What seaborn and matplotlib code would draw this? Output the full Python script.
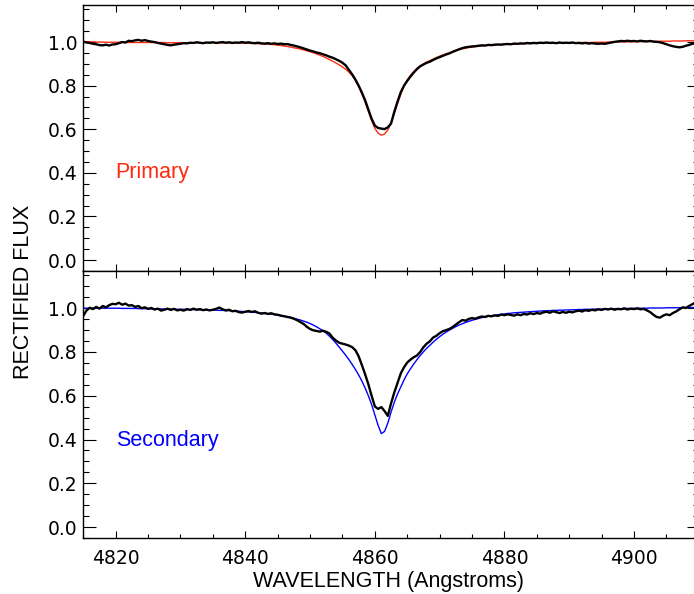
import numpy as np
import pandas as pd
import matplotlib
matplotlib.use("Agg")
import matplotlib.pyplot as plt
import seaborn as sns
from matplotlib.ticker import MultipleLocator, FuncFormatter

# ---------------- data ----------------
wave_start, wave_stop, wave_step = 4815.0, 4910.0, 0.5
wavelength = np.round(np.arange(wave_start, wave_stop + wave_step / 2, wave_step), 2)

primary_obs = [
    1.002, 0.998, 0.996, 0.992, 0.990, 0.986, 0.985, 0.988, 0.984, 0.989,
    0.990, 0.995, 1.000, 0.998, 1.006, 1.004, 1.008, 1.010, 1.006, 1.009,
    1.005, 1.002, 1.000, 0.996, 0.993, 0.990, 0.987, 0.985, 0.988, 0.990,
    0.992, 0.995, 0.994, 0.997, 0.996, 0.999, 0.997, 0.995, 0.998, 0.997,
    0.999, 0.996, 0.998, 1.000, 0.997, 0.999, 0.996, 0.998, 0.997, 1.000,
    0.997, 0.999, 0.996, 0.995, 0.997, 0.994, 0.993, 0.995, 0.992, 0.994,
    0.991, 0.993, 0.990, 0.991, 0.987, 0.984, 0.980, 0.976, 0.971, 0.966,
    0.961, 0.957, 0.952, 0.949, 0.944, 0.939, 0.933, 0.928, 0.921, 0.914,
    0.905, 0.893, 0.872, 0.852, 0.828, 0.800, 0.768, 0.733, 0.690, 0.648,
    0.617, 0.606, 0.603, 0.601, 0.609, 0.626, 0.680, 0.727, 0.770, 0.800,
    0.822, 0.842, 0.860, 0.876, 0.889, 0.897, 0.905, 0.910, 0.918, 0.925,
    0.931, 0.937, 0.943, 0.948, 0.955, 0.961, 0.967, 0.972, 0.976, 0.978,
    0.980, 0.981, 0.983, 0.985, 0.984, 0.987, 0.986, 0.988, 0.989, 0.988,
    0.990, 0.991, 0.990, 0.993, 0.992, 0.994, 0.993, 0.996, 0.994, 0.996,
    0.995, 0.997, 0.996, 0.998, 0.996, 0.997, 0.995, 0.998, 0.996, 0.997,
    0.996, 0.998, 0.995, 0.996, 0.994, 0.996, 0.993, 0.995, 0.993, 0.992,
    0.993, 0.992, 0.995, 0.998, 1.001, 1.003, 1.005, 1.004, 1.006, 1.004,
    1.005, 1.003, 1.006, 1.004, 1.003, 1.005, 1.002, 1.001, 0.999, 0.995,
    0.990, 0.985, 0.981, 0.978, 0.976, 0.978, 0.983, 0.987, 0.992, 0.994,
    0.995,
]

primary_model = [
    1.002, 1.002, 1.001, 1.001, 1.000, 1.000, 1.000, 0.999, 0.999, 0.999,
    0.999, 0.999, 0.999, 0.998, 0.998, 0.998, 0.998, 0.998, 0.998, 0.998,
    0.998, 0.998, 0.998, 0.998, 0.998, 0.998, 0.997, 0.997, 0.997, 0.997,
    0.997, 0.997, 0.997, 0.997, 0.997, 0.997, 0.997, 0.997, 0.997, 0.997,
    0.997, 0.997, 0.996, 0.996, 0.996, 0.996, 0.996, 0.996, 0.995, 0.995,
    0.995, 0.994, 0.994, 0.993, 0.993, 0.992, 0.991, 0.990, 0.989, 0.988,
    0.986, 0.984, 0.982, 0.980, 0.977, 0.974, 0.971, 0.968, 0.964, 0.960,
    0.956, 0.951, 0.946, 0.940, 0.934, 0.927, 0.920, 0.912, 0.904, 0.895,
    0.886, 0.875, 0.862, 0.846, 0.824, 0.796, 0.763, 0.724, 0.682, 0.640,
    0.604, 0.582, 0.573, 0.578, 0.597, 0.630, 0.673, 0.718, 0.760, 0.798,
    0.826, 0.847, 0.865, 0.879, 0.891, 0.900, 0.908, 0.915, 0.922, 0.929,
    0.935, 0.941, 0.946, 0.951, 0.956, 0.961, 0.965, 0.969, 0.972, 0.975,
    0.977, 0.979, 0.981, 0.983, 0.984, 0.985, 0.986, 0.987, 0.988, 0.989,
    0.990, 0.990, 0.991, 0.991, 0.992, 0.992, 0.993, 0.993, 0.994, 0.994,
    0.994, 0.995, 0.995, 0.995, 0.996, 0.996, 0.996, 0.996, 0.997, 0.997,
    0.997, 0.997, 0.997, 0.998, 0.998, 0.998, 0.998, 0.998, 0.999, 0.999,
    0.999, 0.999, 1.000, 1.000, 1.000, 1.000, 1.001, 1.001, 1.001, 1.001,
    1.002, 1.002, 1.002, 1.002, 1.003, 1.003, 1.003, 1.003, 1.004, 1.004,
    1.004, 1.004, 1.005, 1.005, 1.005, 1.005, 1.006, 1.006, 1.006, 1.006,
    1.006,
]

secondary_obs = [
    0.965, 0.990, 1.002, 0.996, 1.006, 0.998, 1.010, 1.004, 1.014, 1.020,
    1.018, 1.025, 1.016, 1.021, 1.012, 1.014, 1.006, 1.010, 1.000, 1.004,
    0.997, 1.001, 0.994, 0.998, 0.989, 0.993, 0.998, 0.992, 0.997, 0.990,
    0.993, 0.989, 0.996, 0.992, 0.998, 0.993, 0.996, 0.991, 0.994, 0.990,
    0.993, 0.997, 1.003, 0.995, 0.990, 0.993, 0.986, 0.988, 0.982, 0.980,
    0.984, 0.987, 0.983, 0.986, 0.979, 0.975, 0.978, 0.974, 0.977, 0.972,
    0.970, 0.966, 0.963, 0.960, 0.957, 0.952, 0.945, 0.937, 0.928, 0.915,
    0.905, 0.899, 0.896, 0.893, 0.897, 0.892, 0.884, 0.865, 0.852, 0.842,
    0.838, 0.834, 0.829, 0.822, 0.808, 0.780, 0.740, 0.698, 0.652, 0.600,
    0.551, 0.540, 0.548, 0.530, 0.508, 0.565, 0.615, 0.658, 0.702, 0.730,
    0.752, 0.765, 0.776, 0.784, 0.800, 0.822, 0.838, 0.849, 0.866, 0.874,
    0.886, 0.895, 0.900, 0.905, 0.914, 0.925, 0.936, 0.946, 0.943, 0.951,
    0.955, 0.952, 0.958, 0.962, 0.960, 0.965, 0.963, 0.967, 0.965, 0.971,
    0.968, 0.972, 0.969, 0.966, 0.972, 0.968, 0.974, 0.971, 0.977, 0.973,
    0.978, 0.975, 0.981, 0.984, 0.979, 0.986, 0.982, 0.978, 0.983, 0.979,
    0.984, 0.981, 0.986, 0.989, 0.985, 0.991, 0.988, 0.993, 0.990, 0.995,
    0.992, 0.997, 0.994, 0.998, 0.993, 0.997, 0.995, 0.999, 0.994, 0.998,
    0.996, 0.999, 0.995, 0.997, 0.990, 0.982, 0.970, 0.960, 0.957, 0.966,
    0.972, 0.968, 0.978, 0.985, 0.995, 1.004, 1.001, 1.010, 1.018, 1.026,
    1.020,
]

secondary_model = [
    1.000, 1.000, 1.000, 1.000, 1.000, 1.000, 1.000, 1.000, 1.000, 1.000,
    1.000, 1.000, 0.999, 0.999, 0.999, 0.999, 0.999, 0.998, 0.998, 0.998,
    0.998, 0.997, 0.997, 0.997, 0.997, 0.996, 0.996, 0.996, 0.995, 0.995,
    0.995, 0.995, 0.994, 0.994, 0.994, 0.993, 0.993, 0.993, 0.992, 0.992,
    0.991, 0.991, 0.990, 0.990, 0.989, 0.989, 0.988, 0.987, 0.986, 0.985,
    0.984, 0.983, 0.982, 0.981, 0.979, 0.978, 0.976, 0.975, 0.973, 0.971,
    0.969, 0.966, 0.964, 0.961, 0.958, 0.954, 0.950, 0.946, 0.941, 0.936,
    0.930, 0.923, 0.915, 0.906, 0.897, 0.886, 0.872, 0.857, 0.840, 0.822,
    0.804, 0.785, 0.765, 0.743, 0.720, 0.695, 0.667, 0.635, 0.600, 0.560,
    0.512, 0.465, 0.427, 0.437, 0.475, 0.525, 0.570, 0.608, 0.640, 0.672,
    0.700, 0.723, 0.745, 0.765, 0.784, 0.801, 0.817, 0.831, 0.845, 0.858,
    0.870, 0.881, 0.891, 0.900, 0.908, 0.916, 0.923, 0.929, 0.935, 0.940,
    0.945, 0.949, 0.953, 0.957, 0.960, 0.963, 0.966, 0.968, 0.970, 0.972,
    0.974, 0.976, 0.977, 0.979, 0.980, 0.981, 0.982, 0.983, 0.984, 0.985,
    0.986, 0.987, 0.988, 0.988, 0.989, 0.990, 0.990, 0.991, 0.991, 0.992,
    0.992, 0.993, 0.993, 0.994, 0.994, 0.995, 0.995, 0.995, 0.996, 0.996,
    0.996, 0.997, 0.997, 0.997, 0.998, 0.998, 0.998, 0.999, 0.999, 0.999,
    0.999, 1.000, 1.000, 1.000, 1.000, 1.001, 1.001, 1.001, 1.001, 1.001,
    1.002, 1.002, 1.002, 1.002, 1.002, 1.003, 1.003, 1.003, 1.003, 1.003,
    1.003,
]

x_limits = (4815, 4910)
y_limits = (-0.05, 1.17)
x_label = "WAVELENGTH (Angstroms)"
y_label = "RECTIFIED FLUX"
panel_names = ["Primary", "Secondary"]

# ---------------- style ----------------
sns.set_style("ticks")
plt.rcParams["font.family"] = ["DejaVu Sans"]
plt.rcParams["axes.linewidth"] = 1.0

RED = "#ff2a10"
BLUE = "#0000ff"
LABEL_FONT = ["Liberation Sans", "DejaVu Sans"]

W, H = 694, 594
fig = plt.figure(figsize=(W / 100, H / 100), dpi=100)
left = 83.3 / W
width = (698.8 - 83.3) / W
ax1 = fig.add_axes([left, 1 - 271 / H, width, 266 / H])
ax2 = fig.add_axes([left, 1 - 538 / H, width, 267 / H])

df1 = pd.DataFrame({"wavelength": wavelength, "obs": primary_obs, "model": primary_model})
df2 = pd.DataFrame({"wavelength": wavelength, "obs": secondary_obs, "model": secondary_model})

sns.lineplot(data=df1, x="wavelength", y="model", color=RED, lw=1.0, ax=ax1)
sns.lineplot(data=df1, x="wavelength", y="obs", color="black", lw=1.7, ax=ax1)
sns.lineplot(data=df2, x="wavelength", y="model", color=BLUE, lw=1.0, ax=ax2)
sns.lineplot(data=df2, x="wavelength", y="obs", color="black", lw=1.7, ax=ax2)

fmt = FuncFormatter(lambda v, p: "%.1f" % (0.0 if abs(v) < 1e-9 else v))
for ax in (ax1, ax2):
    ax.set_xlim(*x_limits)
    ax.set_ylim(*y_limits)
    ax.xaxis.set_major_locator(MultipleLocator(20))
    ax.xaxis.set_minor_locator(MultipleLocator(5))
    ax.yaxis.set_major_locator(MultipleLocator(0.2))
    ax.yaxis.set_minor_locator(MultipleLocator(0.05))
    ax.yaxis.set_major_formatter(fmt)
    ax.tick_params(which="both", direction="in", top=True, right=True,
                   width=0.8, color="black", labelsize=13.5, labelcolor="black")
    ax.tick_params(axis="x", which="major", length=5.2, pad=7.6)
    ax.tick_params(axis="x", which="minor", length=3.1)
    ax.tick_params(axis="y", which="major", length=9.0, pad=4.0)
    ax.tick_params(axis="y", which="minor", length=4.6)
    ax.set_xlabel("")
    ax.set_ylabel("")
    for s in ax.spines.values():
        s.set_color("black")
        s.set_linewidth(1.0)

ax1.tick_params(labelbottom=False)

ax1.text(4820, 0.375, panel_names[0], color=RED, fontsize=15.5,
         family=LABEL_FONT, ha="left", va="baseline")
ax2.text(4820, 0.371, panel_names[1], color=BLUE, fontsize=15.5,
         family=LABEL_FONT, ha="left", va="baseline")

fig.text(388.5 / W, 1 - 587 / H, x_label, fontsize=15.5, family=LABEL_FONT,
         ha="center", va="baseline", color="black")
fig.text(23.5 / W, 1 - 291.5 / H, y_label, fontsize=15.5, family=LABEL_FONT,
         rotation=90, ha="center", va="center", color="black")

fig.savefig("out.png", dpi=100)
